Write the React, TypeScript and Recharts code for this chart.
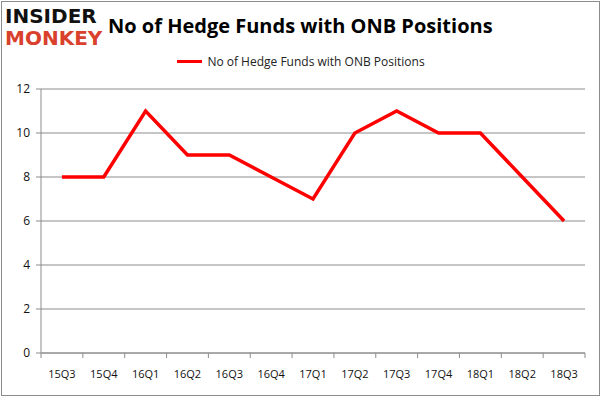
import { LineChart, Line, XAxis, YAxis, CartesianGrid } from "recharts";

const quarters = ["15Q3", "15Q4", "16Q1", "16Q2", "16Q3", "16Q4", "17Q1", "17Q2", "17Q3", "17Q4", "18Q1", "18Q2", "18Q3"];
const hedgeFunds = [8, 8, 11, 9, 9, 8, 7, 10, 11, 10, 10, 8, 6];
const yTicks = [0, 2, 4, 6, 8, 10, 12];
const seriesName = "No of Hedge Funds with ONB Positions";

const data = quarters.map((q, i) => ({ quarter: q, value: hedgeFunds[i] }));

const font = "'Open Sans', 'Liberation Sans', sans-serif";
const half = 544 / 13 / 2;

// category tick with Excel-style tick marks between categories
function QuarterTick(props: any) {
  const { x, y, payload, index } = props;
  return (
    <g>
      {index === 0 && <line x1={x - half} x2={x - half} y1={y - 14} y2={y - 9} stroke="#8c8c8c" />}
      <line x1={x + half} x2={x + half} y1={y - 14} y2={y - 9} stroke="#8c8c8c" />
      <text x={x} y={y} dy={11} textAnchor="middle" fontSize={11} fill="#111" fontFamily={font}>
        {payload.value}
      </text>
    </g>
  );
}

export default function App() {
  return (
    <div style={{ position: "absolute", left: 0, top: 0, width: 602, height: 398, background: "#fff" }}>
      <div style={{ position: "absolute", left: 1, top: 1, width: 597, height: 393, border: "1px solid #8c8c8c" }} />
      <div style={{ position: "absolute", left: 5, top: 5, fontFamily: "'DejaVu Sans', sans-serif", fontWeight: 900, lineHeight: "22px", fontSize: 20, letterSpacing: 0 }}>
        <div style={{ color: "#111" }}>INSIDER</div>
        <div style={{ color: "#d9412c" }}>MONKEY</div>
      </div>
      <div style={{ position: "absolute", left: 108, top: 12, fontFamily: font, fontWeight: 700, fontSize: 20, color: "#000", whiteSpace: "nowrap" }}>
        No of Hedge Funds with ONB Positions
      </div>
      <div style={{ position: "absolute", left: 0, top: 53, width: 602, display: "flex", justifyContent: "center", alignItems: "center", fontFamily: font, fontSize: 12, color: "#222" }}>
        <span style={{ display: "inline-block", width: 25, height: 3, background: "#ff0000", marginRight: 5 }} />
        <span>{seriesName}</span>
      </div>
      <LineChart width={602} height={398} data={data} margin={{ top: 89, right: 17, left: 0, bottom: 0 }}>
        <CartesianGrid vertical={false} stroke="#8c8c8c" />
        <XAxis
          dataKey="quarter"
          height={45}
          interval={0}
          stroke="#8c8c8c"
          padding={{ left: half, right: half }}
          tickLine={false}
          tickSize={5}
          tickMargin={9}
          tick={<QuarterTick />}
        />
        <YAxis
          width={41}
          domain={[0, 12]}
          ticks={yTicks}
          stroke="#8c8c8c"
          tickSize={5}
          tickMargin={6}
          tick={{ fontSize: 12, fill: "#111", fontFamily: font }}
        />
        <Line
          type="linear"
          dataKey="value"
          name={seriesName}
          stroke="#ff0000"
          strokeWidth={3.5}
          dot={false}
          isAnimationActive={false}
        />
      </LineChart>
    </div>
  );
}
